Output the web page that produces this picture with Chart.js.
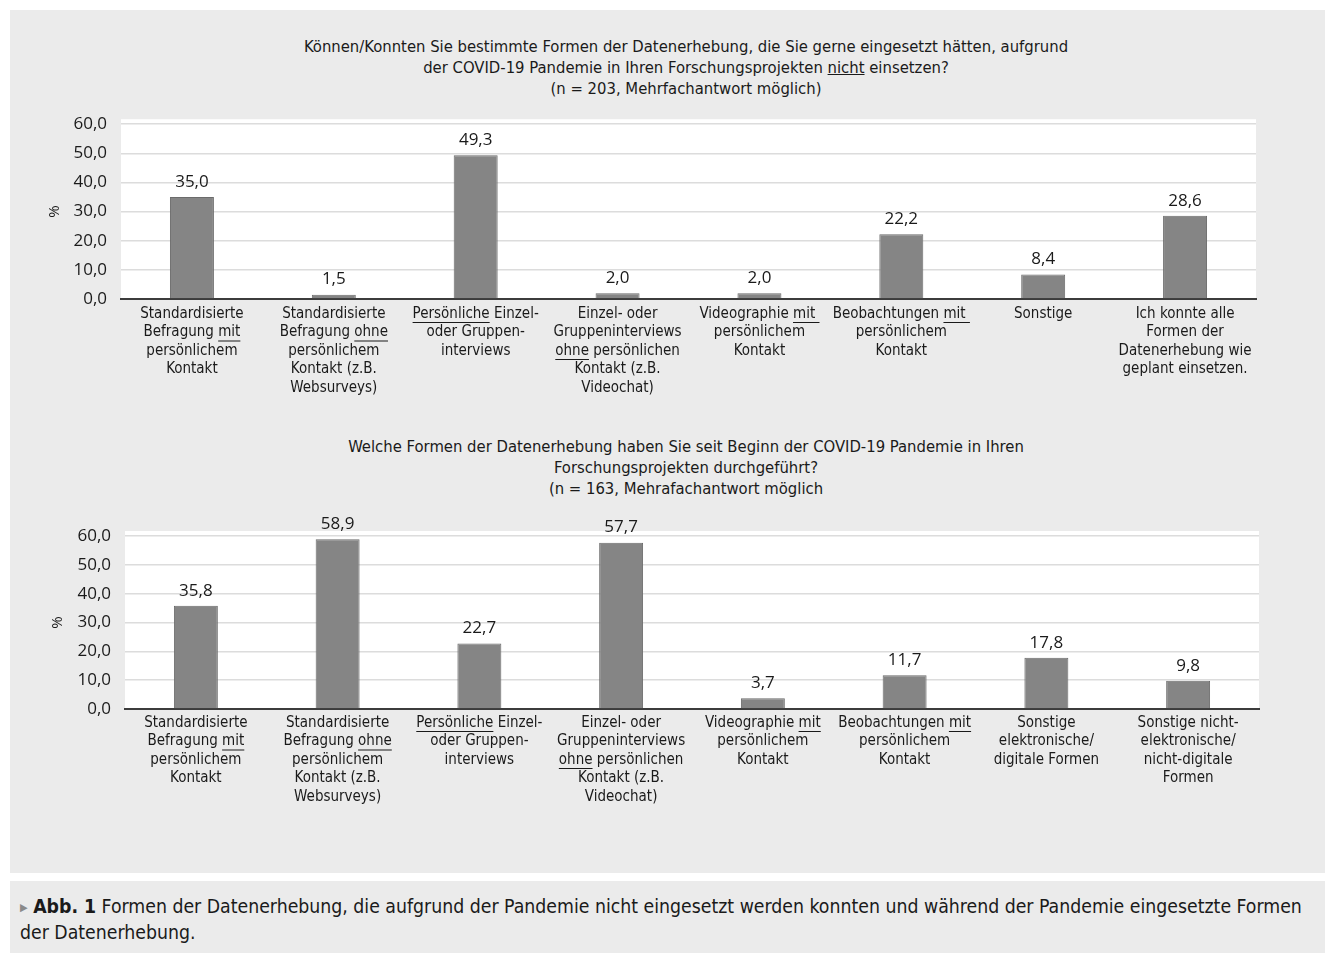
<!DOCTYPE html>
<html lang="de">
<head>
<meta charset="utf-8">
<script src="https://cdn.jsdelivr.net/npm/chart.js@4.4.1/dist/chart.umd.min.js"></script>
<style>
  body { margin: 0; background: #fff; width: 1335px; height: 953px; position: relative; overflow: hidden; }
  .panel { position: absolute; left: 10px; top: 10px; width: 1315px; height: 863px; background: #ebebeb; }
  .caption { position: absolute; left: 10px; top: 881px; width: 1315px; height: 72px; background: #ebebeb;
    font: 19.3px 'Liberation Sans Narrow', 'DejaVu Sans Condensed', sans-serif; color: #1a1a1a; line-height: 25px; }
  .caption p { margin: 13px 0 0 10px; white-space: nowrap; }
  .caption .tri { color: #8a8a8a; font-size: 11px; vertical-align: 2px; }
  .title { position: absolute; left: 0; width: 1372px; text-align: center; color: #1a1a1a;
    font: 16.5px 'Liberation Sans Narrow', 'DejaVu Sans Condensed', sans-serif; line-height: 21px; }
  canvas { position: absolute; left: 0; }
</style>
</head>
<body>
<div class="panel"></div>
<div class="title" style="top:36px">Können/Konnten Sie bestimmte Formen der Datenerhebung, die Sie gerne eingesetzt hätten, aufgrund<br>der COVID-19 Pandemie in Ihren Forschungsprojekten <u>nicht</u> einsetzen?<br>(n = 203, Mehrfachantwort möglich)</div>
<div class="title" style="top:436px">Welche Formen der Datenerhebung haben Sie seit Beginn der COVID-19 Pandemie in Ihren<br>Forschungsprojekten durchgeführt?<br>(n = 163, Mehrafachantwort möglich</div>
<canvas id="chart1" width="1335" height="320" style="top:100px"></canvas>
<canvas id="chart2" width="1335" height="320" style="top:510px"></canvas>
<div class="caption"><p><span class="tri">&#9654;</span> <b>Abb. 1</b> Formen der Datenerhebung, die aufgrund der Pandemie nicht eingesetzt werden konnten und während der Pandemie eingesetzte Formen<br>der Datenerhebung.</p></div>
<script>
// text between underscores is underlined
const labels1 = [
  ['Standardisierte', 'Befragung _mit_', 'persönlichem', 'Kontakt'],
  ['Standardisierte', 'Befragung _ohne_', 'persönlichem', 'Kontakt (z.B.', 'Websurveys)'],
  ['_Persönliche_ Einzel-', 'oder Gruppen-', 'interviews'],
  ['Einzel- oder', 'Gruppeninterviews', '_ohne_ persönlichen', 'Kontakt (z.B.', 'Videochat)'],
  ['Videographie _mit _', 'persönlichem', 'Kontakt'],
  ['Beobachtungen _mit _', 'persönlichem', 'Kontakt'],
  ['Sonstige'],
  ['Ich konnte alle', 'Formen der', 'Datenerhebung wie', 'geplant einsetzen.']
];
const values1 = [35.0, 1.5, 49.3, 2.0, 2.0, 22.2, 8.4, 28.6];

const labels2 = [
  ['Standardisierte', 'Befragung _mit_', 'persönlichem', 'Kontakt'],
  ['Standardisierte', 'Befragung _ohne_', 'persönlichem', 'Kontakt (z.B.', 'Websurveys)'],
  ['_Persönliche_ Einzel-', 'oder Gruppen-', 'interviews'],
  ['Einzel- oder', 'Gruppeninterviews', '_ohne_ persönlichen', 'Kontakt (z.B.', 'Videochat)'],
  ['Videographie _mit_', 'persönlichem', 'Kontakt'],
  ['Beobachtungen _mit_', 'persönlichem', 'Kontakt'],
  ['Sonstige', 'elektronische/', 'digitale Formen'],
  ['Sonstige nicht-', 'elektronische/', 'nicht-digitale', 'Formen']
];
const values2 = [35.8, 58.9, 22.7, 57.7, 3.7, 11.7, 17.8, 9.8];

const yTicks = [0, 10, 20, 30, 40, 50, 60];

const NARROW = "'Liberation Sans Narrow', 'DejaVu Sans Condensed', sans-serif";
const WIDE = "'Open Sans', sans-serif";
const fmt = v => v.toFixed(1).replace('.', ',');

const plotBg = {
  id: 'plotBg',
  beforeDraw(chart) {
    const a = chart.chartArea, c = chart.ctx;
    c.save();
    c.fillStyle = '#ffffff';
    c.fillRect(a.left, a.top - 5, a.right - a.left, a.bottom - a.top + 5);
    c.restore();
  }
};

const valueLabels = {
  id: 'valueLabels',
  afterDatasetsDraw(chart) {
    const c = chart.ctx;
    const meta = chart.getDatasetMeta(0);
    const data = chart.data.datasets[0].data;
    c.save();
    c.font = '17px ' + WIDE;
    c.fillStyle = '#1a1a1a';
    c.textAlign = 'center';
    c.textBaseline = 'middle';
    meta.data.forEach((bar, i) => c.fillText(fmt(data[i]), bar.x, bar.y - 15));
    c.restore();
  }
};

const catLabels = {
  id: 'catLabels',
  afterDraw(chart, args, opts) {
    const c = chart.ctx;
    const xs = chart.scales.x;
    c.save();
    c.font = '15px ' + NARROW;
    c.fillStyle = '#1a1a1a';
    c.textAlign = 'left';
    c.textBaseline = 'middle';
    opts.lines.forEach((lines, i) => {
      const cx = xs.getPixelForTick(i);
      lines.forEach((line, j) => {
        const y = xs.top + opts.offset + j * 18.5;
        const parts = line.split('_');
        let x = cx - c.measureText(parts.join('')).width / 2;
        parts.forEach((p, k) => {
          const w = c.measureText(p).width;
          c.fillText(p, x, y);
          if (k % 2 === 1) c.fillRect(x, y + 8, w, 1);
          x += w;
        });
      });
    });
    c.restore();
  }
};

function makeChart(id, labels, values, yLeft, plotRight, plotTop, titleX, labelOffset) {
  return new Chart(document.getElementById(id), {
    type: 'bar',
    data: {
      labels: labels.map(l => l.join(' ').replace(/_/g, '')),
      datasets: [{
        data: values,
        backgroundColor: '#858585',
        borderColor: '#6b6b6b',
        borderWidth: 1,
        categoryPercentage: 1,
        barPercentage: 0.31
      }]
    },
    options: {
      responsive: false,
      animation: false,
      layout: { padding: { left: 0, right: 1335 - plotRight, top: plotTop, bottom: 11 } },
      plugins: {
        legend: { display: false },
        tooltip: { enabled: false },
        catLabels: { lines: labels, offset: labelOffset }
      },
      scales: {
        x: {
          grid: { display: true, drawOnChartArea: false, drawTicks: false },
          border: { color: '#3c3c3c', width: 2 },
          ticks: { display: false },
          afterFit(scale) { scale.height = 110; }
        },
        y: {
          min: 0,
          max: 60,
          afterBuildTicks(scale) { scale.ticks = yTicks.map(v => ({ value: v })); },
          grid: { color: '#dcdcdc', lineWidth: 1.5, drawTicks: false },
          border: { display: false },
          ticks: {
            padding: 14,
            color: '#1a1a1a',
            font: { family: WIDE, size: 17 },
            callback: v => fmt(v)
          },
          title: {
            display: true,
            text: '%',
            color: '#1a1a1a',
            font: { family: WIDE, size: 15 },
            padding: { top: titleX - 9 }
          },
          afterFit(scale) { scale.width = yLeft; }
        }
      }
    },
    plugins: [plotBg, valueLabels, catLabels]
  });
}

makeChart('chart1', labels1, values1, 121, 1256, 21, 55, 15);
makeChart('chart2', labels2, values2, 125, 1259, 26, 58, 14);
</script>
</body>
</html>
